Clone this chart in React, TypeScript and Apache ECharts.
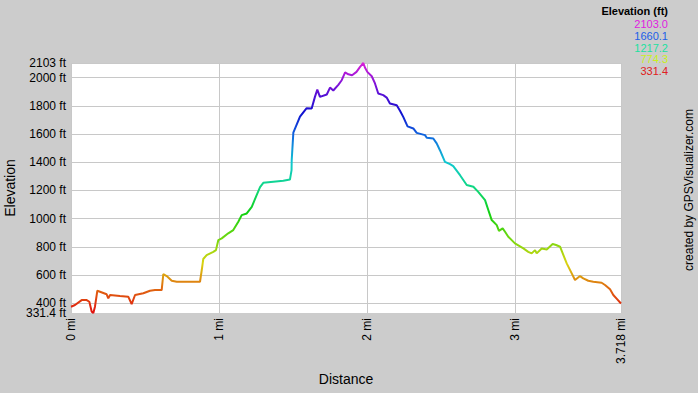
import React, { useEffect, useRef } from "react";
import * as echarts from "echarts";

const distanceMi = [
  0, 0.027, 0.072, 0.106, 0.124, 0.14, 0.151, 0.162, 0.178, 0.196, 0.241, 0.252, 0.264, 0.331, 0.387,
  0.41, 0.433, 0.489, 0.534, 0.568, 0.613, 0.624, 0.647, 0.681, 0.715, 0.872, 0.884, 0.894, 0.917,
  0.962, 0.98, 0.996, 1.019, 1.063, 1.097, 1.131, 1.154, 1.188, 1.222, 1.255, 1.278, 1.3, 1.368,
  1.435, 1.48, 1.491, 1.492, 1.503, 1.548, 1.593, 1.627, 1.649, 1.665, 1.683, 1.729, 1.751, 1.773,
  1.807, 1.83, 1.853, 1.875, 1.9, 1.93, 1.954, 1.976, 1.988, 2.003, 2.033, 2.055, 2.077, 2.111,
  2.134, 2.156, 2.202, 2.224, 2.246, 2.275, 2.314, 2.337, 2.393, 2.405, 2.449, 2.472, 2.494, 2.528,
  2.562, 2.584, 2.63, 2.675, 2.72, 2.753, 2.799, 2.821, 2.844, 2.878, 2.893, 2.918, 2.934, 2.956,
  3.001, 3.058, 3.091, 3.114, 3.137, 3.148, 3.182, 3.216, 3.256, 3.279, 3.306, 3.351, 3.385, 3.407,
  3.441, 3.463, 3.497, 3.531, 3.587, 3.61, 3.644, 3.666, 3.693, 3.718,
];

const elevationFt = [
  376, 388, 423, 423, 411, 341, 331.4, 376, 489, 482, 464, 435, 459, 452, 447,
  395, 459, 471, 489, 494, 494, 607, 593, 560, 553, 553, 636, 714, 742,
  765, 777, 848, 860, 896, 919, 978, 1025, 1037, 1084, 1167, 1223, 1254, 1261,
  1268, 1277, 1344, 1415, 1609, 1723, 1783, 1781, 1863, 1914, 1863, 1880, 1929, 1908,
  1948, 1981, 2036, 2023, 2016, 2040, 2075, 2103, 2069, 2040, 2009, 1958, 1887, 1875,
  1858, 1816, 1804, 1765, 1721, 1654, 1639, 1608, 1592, 1573, 1568, 1533, 1485, 1403,
  1386, 1372, 1308, 1238, 1226, 1190, 1131, 1061, 990, 954, 914, 931, 907, 872,
  825, 789, 765, 754, 777, 754, 789, 782, 820, 813, 801, 683, 612, 565,
  593, 577, 560, 553, 546, 530, 499, 459, 428, 399,
];

const yTickValues = [400, 600, 800, 1000, 1200, 1400, 1600, 1800, 2000, 2103];
const yMinTickValues = [331.4];
const xTickValues = [0, 1, 2, 3, 3.718];

const legendValues = ["2103.0", "1660.1", "1217.2", "774.3", "331.4"];
const legendColors = ["#e020e0", "#2060e8", "#20e0a0", "#c8f020", "#e02020"];

const rampColors = [
  "#e01010", "#e06a10", "#d8d410", "#70d810", "#10d010", "#10d880",
  "#10c8d0", "#1070e0", "#1010d0", "#7010d8", "#d820d8",
];

const FONT = "Liberation Sans, Arial, sans-serif";

export default function App() {
  const ref = useRef<HTMLDivElement>(null);

  useEffect(() => {
    if (!ref.current) return;
    const chart = echarts.init(ref.current, null, { renderer: "svg" });
    const data = distanceMi.map((d, i) => [d, elevationFt[i]]);

    const legendTexts: any[] = [
      {
        type: "text",
        x: 668,
        y: 11,
        style: {
          text: "Elevation (ft)",
          font: `bold 11px ${FONT}`,
          fill: "#000",
          align: "right",
          verticalAlign: "middle",
        },
      },
      ...legendValues.map((v, i) => ({
        type: "text",
        x: 668,
        y: 24 + i * 11.8,
        style: {
          text: v,
          font: `11px ${FONT}`,
          lineHeight: 11,
          fill: legendColors[i],
          align: "right",
          verticalAlign: "middle",
        },
      })),
    ];

    const yLabel = {
      margin: 5,
      fontSize: 12,
      color: "#000",
      fontFamily: FONT,
      hideOverlap: false,
      formatter: (v: number) => `${v} ft`,
    };

    chart.setOption({
      animation: false,
      backgroundColor: "#cccccc",
      textStyle: { fontFamily: FONT },
      grid: {
        left: 71,
        right: 77,
        top: 63,
        bottom: 80,
        show: true,
        backgroundColor: "#ffffff",
        borderWidth: 0,
        containLabel: false,
        outerBoundsMode: "none",
      },
      xAxis: {
        type: "value",
        min: 0,
        max: 3.718,
        name: "Distance",
        nameLocation: "middle",
        nameGap: 58,
        nameTextStyle: { fontSize: 14, color: "#000", fontFamily: FONT },
        axisLine: { show: false },
        axisTick: { show: false, customValues: xTickValues },
        axisLabel: {
          customValues: xTickValues,
          rotate: 90,
          margin: 5,
          fontSize: 12,
          color: "#000",
          fontFamily: FONT,
          hideOverlap: false,
          formatter: (v: number) => `${v} mi`,
        },
        splitLine: { show: true, lineStyle: { color: "#c8c8c8", width: 1 } },
      },
      yAxis: [
        {
          type: "value",
          position: "left",
          min: 331.4,
          max: 2103,
          name: "Elevation",
          nameLocation: "middle",
          nameGap: 54,
          nameTextStyle: { fontSize: 14, color: "#000", fontFamily: FONT },
          axisLine: { show: false },
          axisTick: { show: false, customValues: yTickValues },
          axisLabel: { ...yLabel, customValues: yTickValues },
          splitLine: { show: true, lineStyle: { color: "#c8c8c8", width: 1 } },
        },
        {
          type: "value",
          position: "left",
          offset: 0,
          min: 331.4,
          max: 2103,
          axisLine: { show: false },
          axisTick: { show: false, customValues: yMinTickValues },
          axisLabel: { ...yLabel, customValues: yMinTickValues },
          splitLine: { show: false },
        },
      ],
      visualMap: {
        type: "continuous",
        show: false,
        dimension: 1,
        seriesIndex: 0,
        min: 331.4,
        max: 2103,
        inRange: { color: rampColors },
      },
      series: [
        {
          type: "line",
          yAxisIndex: 0,
          data,
          symbol: "none",
          lineStyle: { width: 2 },
        },
      ],
      graphic: [
        ...legendTexts,
        {
          type: "text",
          x: 689,
          y: 190,
          rotation: Math.PI / 2,
          style: {
            text: "created by GPSVisualizer.com",
            font: `12px ${FONT}`,
            fill: "#000",
            align: "center",
            verticalAlign: "middle",
          },
        },
      ],
    });

    return () => chart.dispose();
  }, []);

  return (
    <div
      ref={ref}
      style={{ position: "fixed", left: 0, top: 0, width: 698, height: 393 }}
    />
  );
}
